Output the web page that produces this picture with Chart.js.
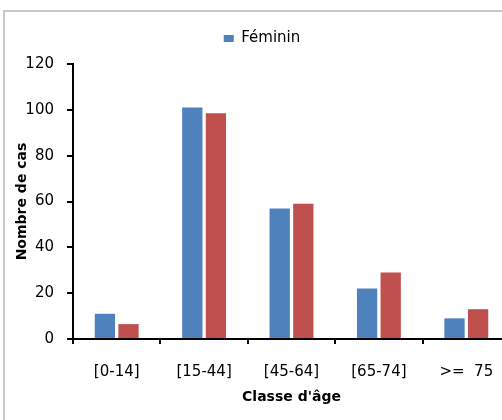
<!DOCTYPE html>
<html>
<head>
<meta charset="utf-8">
<script src="https://cdn.jsdelivr.net/npm/chart.js@4.4.1/dist/chart.umd.min.js"></script>
<style>
  html, body { margin: 0; padding: 0; background: #fff; overflow: hidden; width: 502px; height: 420px; }
  #wrap { position: absolute; left: 0; top: 0; width: 525px; height: 420px; }
</style>
</head>
<body>
<div id="wrap"><canvas id="c" width="525" height="420"></canvas></div>
<script>
const categories = ['[0-14]', '[15-44]', '[45-64]', '[65-74]', '>=  75'];
const femininValues = [11, 101, 57, 22, 9];
const masculinValues = [6.5, 98.5, 59, 29, 13];
const seriesNames = ['Féminin', 'Masculin'];
const yTicks = [0, 20, 40, 60, 80, 100, 120];

const FONT = 'DejaVu Sans';

const legendSpacer = {
  id: 'legendSpacer',
  beforeInit(chart) {
    const lg = chart.legend;
    if (!lg) return;
    const orig = lg.fit;
    lg.fit = function () { orig.call(this); this.height += 8; };
  },
  afterLayout(chart) {
    const lg = chart.legend;
    if (!lg) return;
    lg.left += 7;
    lg.right += 7;
  }
};

const frameBorder = {
  id: 'frameBorder',
  beforeDraw(chart) {
    const ctx = chart.ctx;
    ctx.save();
    ctx.strokeStyle = '#c8c8c8';
    ctx.lineWidth = 2;
    ctx.beginPath();
    ctx.moveTo(4, chart.height + 5);
    ctx.lineTo(4, 11);
    ctx.lineTo(chart.width + 5, 11);
    ctx.stroke();
    ctx.restore();
  }
};

new Chart(document.getElementById('c'), {
  type: 'bar',
  data: {
    labels: categories,
    datasets: [
      { label: seriesNames[0], data: femininValues, backgroundColor: '#4F81BD',
        categoryPercentage: 0.54, barPercentage: 0.86 },
      { label: seriesNames[1], data: masculinValues, backgroundColor: '#C0504D',
        categoryPercentage: 0.54, barPercentage: 0.86 }
    ]
  },
  plugins: [legendSpacer, frameBorder],
  options: {
    responsive: false,
    animation: false,
    devicePixelRatio: 1,
    layout: { padding: { left: 0, right: 15, top: 21, bottom: 0 } },
    plugins: {
      tooltip: { enabled: false },
      legend: {
        position: 'top',
        align: 'center',
        labels: {
          boxWidth: 10, boxHeight: 7, padding: 10,
          color: '#000',
          font: { family: FONT, size: 15 },
          filter: (item) => item.datasetIndex === 0
        }
      }
    },
    scales: {
      x: {
        grid: { display: true, drawOnChartArea: false, drawTicks: true, tickLength: 5,
                color: '#000', lineWidth: 2, offset: true },
        border: { display: true, color: '#000', width: 2 },
        ticks: { color: '#000', font: { family: FONT, size: 15 }, padding: 19, maxRotation: 0 },
        title: { display: true, text: "Classe d'âge", color: '#000',
                 font: { family: FONT, size: 14, weight: 'bold' }, padding: { top: 0, bottom: 14 } },
        afterFit: (s) => { s.height = 81; }
      },
      y: {
        min: 0, max: 120,
        afterBuildTicks: (s) => { s.ticks = yTicks.map(v => ({ value: v })); },
        grid: { display: true, drawOnChartArea: false, drawTicks: true, tickLength: 6,
                color: '#000', lineWidth: 2 },
        border: { display: true, color: '#000', width: 2 },
        ticks: { color: '#000', font: { family: FONT, size: 15 }, padding: 13 },
        title: { display: true, text: 'Nombre de cas', color: '#000',
                 font: { family: FONT, size: 14, weight: 'bold' }, padding: { top: 14, bottom: 0 } },
        afterFit: (s) => { s.width = 73; }
      }
    }
  }
});
</script>
</body>
</html>
